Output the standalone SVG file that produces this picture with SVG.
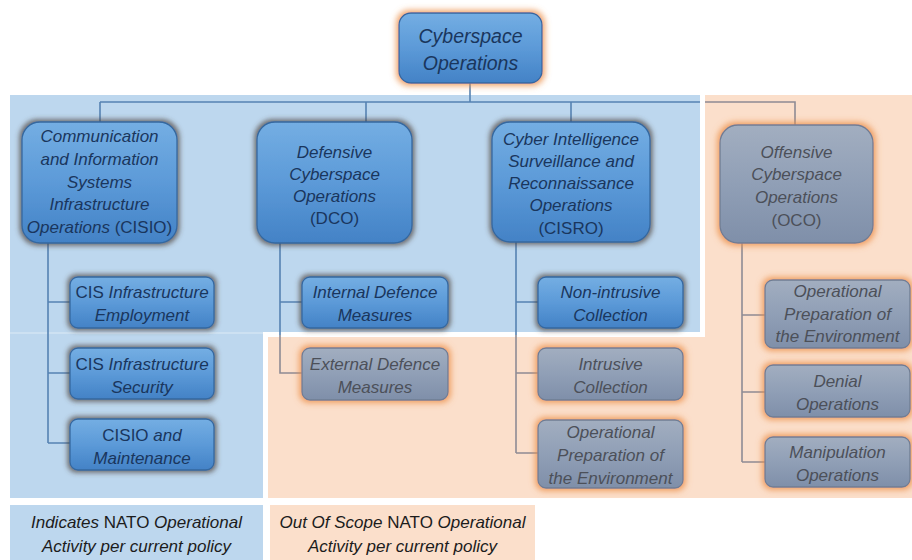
<svg xmlns="http://www.w3.org/2000/svg" width="912" height="560" viewBox="0 0 912 560">
  <defs>
    <linearGradient id="gBlue" x1="0" y1="0" x2="0" y2="1">
      <stop offset="0" stop-color="#74aee3"/>
      <stop offset="0.5" stop-color="#5c9ad8"/>
      <stop offset="1" stop-color="#4382c6"/>
    </linearGradient>
    <linearGradient id="gGrey" x1="0" y1="0" x2="0" y2="1">
      <stop offset="0" stop-color="#a2aec0"/>
      <stop offset="0.5" stop-color="#909fb6"/>
      <stop offset="1" stop-color="#7f8fa9"/>
    </linearGradient>
    <!-- dark soft halo under in-scope nodes -->
    <filter id="haloDark" x="-20%" y="-25%" width="140%" height="150%">
      <feMorphology in="SourceAlpha" operator="dilate" radius="1.5" result="d"/>
      <feGaussianBlur in="d" stdDeviation="2.5" result="b"/>
      <feFlood flood-color="#4a3e36" flood-opacity="0.7"/>
      <feComposite in2="b" operator="in" result="s"/>
      <feMerge><feMergeNode in="s"/><feMergeNode in="SourceGraphic"/></feMerge>
    </filter>
    <!-- orange halo for out-of-scope and top nodes -->
    <filter id="haloOrange" x="-20%" y="-25%" width="140%" height="150%">
      <feMorphology in="SourceAlpha" operator="dilate" radius="2" result="d"/>
      <feGaussianBlur in="d" stdDeviation="3" result="b"/>
      <feFlood flood-color="#ec8f48" flood-opacity="0.85"/>
      <feComposite in2="b" operator="in" result="s"/>
      <feMerge><feMergeNode in="s"/><feMergeNode in="SourceGraphic"/></feMerge>
    </filter>
  </defs>
  <style>
    text { font-family: "Liberation Sans", Arial, sans-serif; font-size: 17px; font-style: italic; text-anchor: middle; }
    .tb { fill: #1a365d; }
    .tg { fill: #4c5059; }
    .tl { fill: #1c1c1c; }
    .n { font-style: normal; }
    .top { font-size: 19.5px; }
    .nb { fill: url(#gBlue); stroke: #35689f; stroke-width: 1.3; filter: url(#haloDark); }
    .ng { fill: url(#gGrey); stroke: #6f7d93; stroke-width: 1.3; filter: url(#haloOrange); }
    .nt { fill: url(#gBlue); stroke: #35689f; stroke-width: 1.3; filter: url(#haloOrange); }
    .cb { fill: none; stroke: #5683b2; stroke-width: 1.6; }
    .cg { fill: none; stroke: #8e8b94; stroke-width: 1.6; }
  </style>

  <rect width="912" height="560" fill="#ffffff"/>

  <!-- scope regions -->
  <g id="regions">
    <rect x="10" y="95" width="690" height="237" fill="#bdd7ee"/>
    <rect x="10" y="332" width="253" height="2" fill="#cde1f2"/>
    <rect x="10" y="334" width="253" height="164" fill="#bdd7ee"/>
    <rect x="705" y="95" width="207" height="403" fill="#fbdfcb"/>
    <rect x="268" y="337" width="644" height="161" fill="#fbdfcb"/>
  </g>

  <!-- connectors -->
  <g id="connectors">
    <path class="cb" d="M470 83V102 M100 102H700 M100 102V122 M366 102V122 M571 102V122"/>
    <path class="cg" d="M705 102H795V125"/>
    <path class="cb" d="M48 243V443 M48 302H70 M48 373H70 M48 443H70"/>
    <path class="cb" d="M280 243V335 M280 302H302"/>
    <path class="cg" d="M280 335V373H302"/>
    <path class="cb" d="M516 242V335 M516 302H538"/>
    <path class="cg" d="M516 335V453 M516 373H538 M516 453H538"/>
    <path class="cg" d="M742 243V462 M742 315H765 M742 392H765 M742 462H765"/>
  </g>

  <g id="cyberspace-operations">
    <rect class="nt" x="399" y="13" width="143" height="70" rx="12"/>
    <text class="tb top" x="470.5" y="43">Cyberspace</text>
    <text class="tb top" x="470.5" y="70">Operations</text>
  </g>

  <g id="cisio">
    <rect class="nb" x="22" y="122" width="155" height="121" rx="18"/>
    <text class="tb" x="99.5" y="142">Communication</text>
    <text class="tb" x="99.5" y="165">and Information</text>
    <text class="tb" x="99.5" y="188">Systems</text>
    <text class="tb" x="99.5" y="210">Infrastructure</text>
    <text class="tb" x="99.5" y="233">Operations <tspan class="n">(CISIO)</tspan></text>
  </g>

  <g id="dco">
    <rect class="nb" x="257" y="122" width="155" height="121" rx="18"/>
    <text class="tb" x="334.5" y="158">Defensive</text>
    <text class="tb" x="334.5" y="180">Cyberspace</text>
    <text class="tb" x="334.5" y="202">Operations</text>
    <text class="tb n" x="334.5" y="224">(DCO)</text>
  </g>

  <g id="cisro">
    <rect class="nb" x="492" y="122" width="158" height="120" rx="18"/>
    <text class="tb" x="571" y="145">Cyber Intelligence</text>
    <text class="tb" x="571" y="167">Surveillance and</text>
    <text class="tb" x="571" y="189">Reconnaissance</text>
    <text class="tb" x="571" y="211">Operations</text>
    <text class="tb n" x="571" y="234">(CISRO)</text>
  </g>

  <g id="oco">
    <rect class="ng" x="720" y="125" width="153" height="118" rx="18"/>
    <text class="tg" x="796.5" y="158">Offensive</text>
    <text class="tg" x="796.5" y="180">Cyberspace</text>
    <text class="tg" x="796.5" y="203">Operations</text>
    <text class="tg n" x="796.5" y="226">(OCO)</text>
  </g>

  <g id="cis-employment">
    <rect class="nb" x="70" y="277" width="144" height="51" rx="8"/>
    <text class="tb" x="142" y="298"><tspan class="n">CIS</tspan> Infrastructure</text>
    <text class="tb" x="142" y="321">Employment</text>
  </g>
  <g id="cis-security">
    <rect class="nb" x="70" y="348" width="144" height="51" rx="8"/>
    <text class="tb" x="142" y="370"><tspan class="n">CIS</tspan> Infrastructure</text>
    <text class="tb" x="142" y="393">Security</text>
  </g>
  <g id="cisio-maintenance">
    <rect class="nb" x="70" y="419" width="144" height="51" rx="8"/>
    <text class="tb" x="142" y="441"><tspan class="n">CISIO</tspan> and</text>
    <text class="tb" x="142" y="464">Maintenance</text>
  </g>

  <g id="internal-defence">
    <rect class="nb" x="302" y="277" width="146" height="51" rx="8"/>
    <text class="tb" x="375" y="298">Internal Defence</text>
    <text class="tb" x="375" y="321">Measures</text>
  </g>
  <g id="external-defence">
    <rect class="ng" x="302" y="348" width="146" height="52" rx="8"/>
    <text class="tg" x="375" y="370">External Defence</text>
    <text class="tg" x="375" y="393">Measures</text>
  </g>

  <g id="non-intrusive">
    <rect class="nb" x="538" y="277" width="145" height="51" rx="8"/>
    <text class="tb" x="610.5" y="298">Non-intrusive</text>
    <text class="tb" x="610.5" y="321">Collection</text>
  </g>
  <g id="intrusive">
    <rect class="ng" x="538" y="348" width="145" height="52" rx="8"/>
    <text class="tg" x="610.5" y="370">Intrusive</text>
    <text class="tg" x="610.5" y="393">Collection</text>
  </g>
  <g id="cisro-ope">
    <rect class="ng" x="538" y="420" width="145" height="68" rx="8"/>
    <text class="tg" x="610.5" y="438">Operational</text>
    <text class="tg" x="610.5" y="461">Preparation of</text>
    <text class="tg" x="610.5" y="484">the Environment</text>
  </g>

  <g id="oco-ope">
    <rect class="ng" x="765" y="280" width="145" height="68" rx="8"/>
    <text class="tg" x="837.5" y="297">Operational</text>
    <text class="tg" x="837.5" y="320">Preparation of</text>
    <text class="tg" x="837.5" y="342">the Environment</text>
  </g>
  <g id="denial">
    <rect class="ng" x="765" y="365" width="145" height="52" rx="8"/>
    <text class="tg" x="837.5" y="387">Denial</text>
    <text class="tg" x="837.5" y="410">Operations</text>
  </g>
  <g id="manipulation">
    <rect class="ng" x="765" y="437" width="145" height="50" rx="8"/>
    <text class="tg" x="837.5" y="458">Manipulation</text>
    <text class="tg" x="837.5" y="481">Operations</text>
  </g>

  <!-- legend -->
  <g id="legend-in-scope">
    <rect x="10" y="505" width="253" height="55" fill="#bdd7ee"/>
    <text class="tl" x="136.5" y="528">Indicates <tspan class="n">NATO</tspan> Operational</text>
    <text class="tl" x="136.5" y="552">Activity per current policy</text>
  </g>
  <g id="legend-out-of-scope">
    <rect x="270" y="505" width="265" height="55" fill="#fbdfcb"/>
    <text class="tl" x="402.5" y="528">Out Of Scope <tspan class="n">NATO</tspan> Operational</text>
    <text class="tl" x="402.5" y="552">Activity per current policy</text>
  </g>
</svg>
